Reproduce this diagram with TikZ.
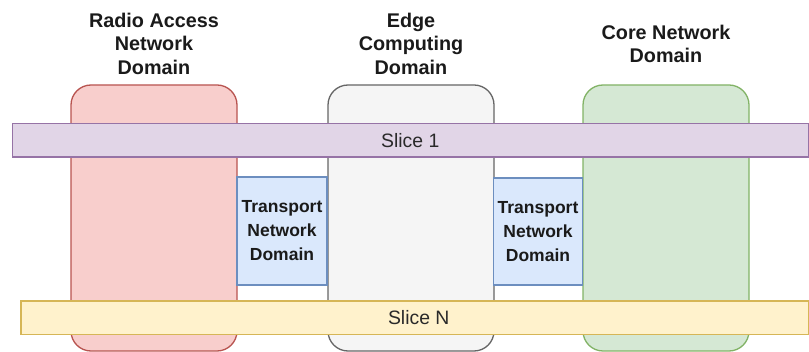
\documentclass[tikz,border=0pt]{standalone}
\usepackage{fontspec}
\setmainfont{Liberation Sans}
\definecolor{ranfill}{HTML}{F8CECC}
\definecolor{randraw}{HTML}{B85450}
\definecolor{edgefill}{HTML}{F5F5F5}
\definecolor{edgedraw}{HTML}{666666}
\definecolor{corefill}{HTML}{D5E8D4}
\definecolor{coredraw}{HTML}{82B366}
\definecolor{tnfill}{HTML}{DAE8FC}
\definecolor{tndraw}{HTML}{6C8EBF}
\definecolor{s1fill}{HTML}{E1D5E7}
\definecolor{s1draw}{HTML}{9673A6}
\definecolor{snfill}{HTML}{FFF2CC}
\definecolor{sndraw}{HTML}{D6B656}
\definecolor{txt}{HTML}{1A1A1A}
\definecolor{slicetxt}{HTML}{2A2A2A}
\begin{document}
\begin{tikzpicture}[x=1pt,y=-1pt,
  domainbox/.style={rectangle, rounded corners=20pt, line width=1.3pt, inner sep=0pt, minimum width=166pt, minimum height=266pt},
  tnbox/.style={rectangle, line width=1.1pt, fill=tnfill, draw=tndraw, inner sep=0pt, text=txt, align=center, font=\bfseries\fontsize{17.5}{24}\selectfont},
  slicebox/.style={rectangle, line width=1.3pt, inner sep=0pt, minimum height=33.5pt, text=slicetxt, font=\fontsize{19.4}{23}\selectfont},
  title/.style={align=center, text=txt, inner sep=0pt, font=\bfseries\fontsize{19.8}{23.5}\selectfont}
]
\useasboundingbox (0,0) rectangle (809,352);
% domains
\node[domainbox, fill=ranfill, draw=randraw] (ran) at (154,218) {};
\node[domainbox, fill=edgefill, draw=edgedraw] (edge) at (411,218) {};
\node[domainbox, fill=corefill, draw=coredraw] (core) at (666,218) {};
% titles
\node[title] (rant) at (154,43.5) {Radio Access\\Network\\Domain};
\node[title] (edget) at (411,43.5) {Edge\\Computing\\Domain};
\node[title] (coret) at (666,44) {Core Network\\Domain};
% transport
\node[tnbox, minimum width=90pt, minimum height=108pt] (tn1) at (282,231) {Transport\\Network\\Domain};
\node[tnbox, minimum width=88.5pt, minimum height=107pt] (tn2) at (538,231.5) {Transport\\Network\\Domain};
% slices
\node[slicebox, fill=s1fill, draw=s1draw, minimum width=796pt] (s1) at (410.3,140.3) {Slice 1};
\node[slicebox, fill=snfill, draw=sndraw, minimum width=787.5pt] (sn) at (414.75,317.7) {\hspace{8pt}Slice N};
\end{tikzpicture}
\end{document}
